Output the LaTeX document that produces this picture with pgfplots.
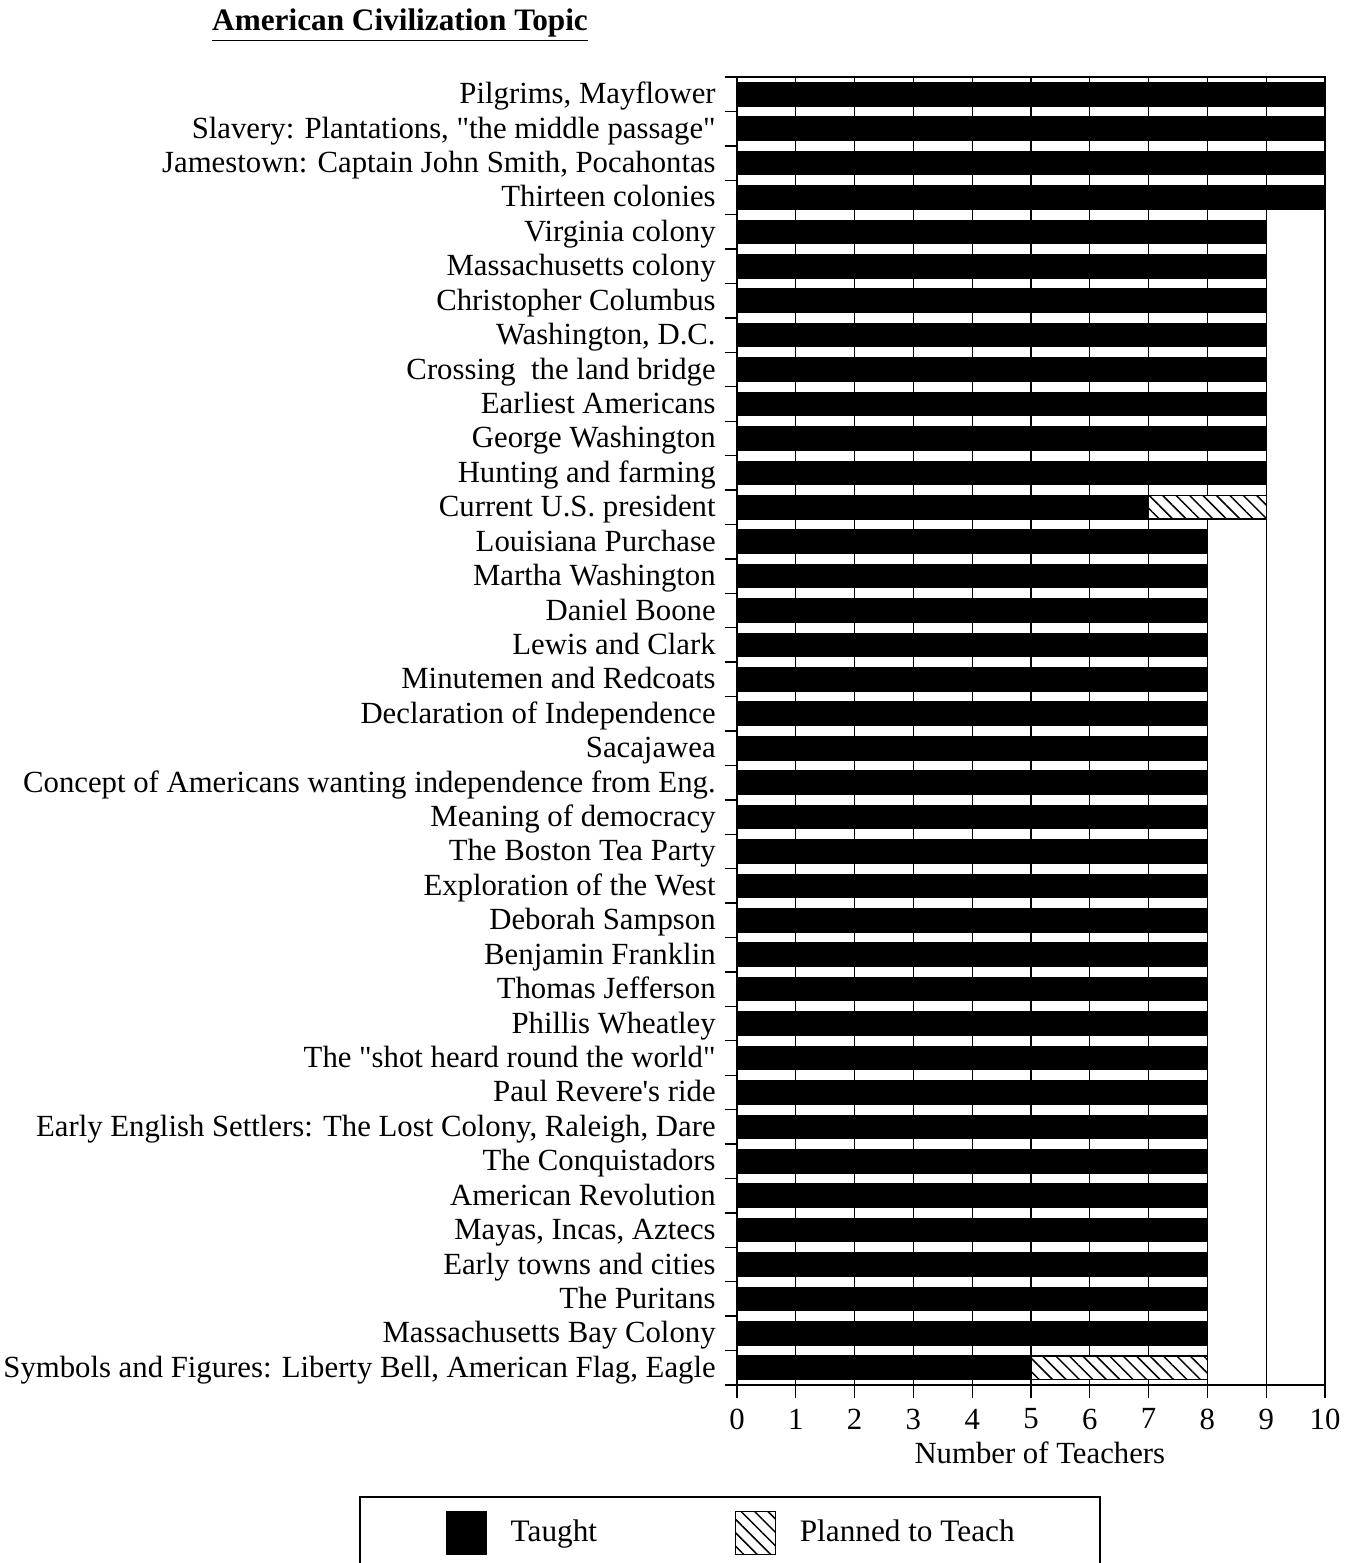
\documentclass[border=0pt]{standalone}
\usepackage{fontspec}
\setmainfont{Liberation Serif}[Ligatures=TeXOff]
\usepackage{pgfplots}
\usepackage{pgfplotstable}
\pgfplotsset{compat=1.18}
\usetikzlibrary{patterns.meta}

% row 1 = top of the chart
\pgfplotstableread{
row taught planned
1 10 0
2 10 0
3 10 0
4 10 0
5 9 0
6 9 0
7 9 0
8 9 0
9 9 0
10 9 0
11 9 0
12 9 0
13 7 2
14 8 0
15 8 0
16 8 0
17 8 0
18 8 0
19 8 0
20 8 0
21 8 0
22 8 0
23 8 0
24 8 0
25 8 0
26 8 0
27 8 0
28 8 0
29 8 0
30 8 0
31 8 0
32 8 0
33 8 0
34 8 0
35 8 0
36 8 0
37 8 0
38 5 3
}\topics

\begin{document}
\begin{tikzpicture}[x=1pt,y=1pt,font=\fontsize{12.3}{14}\selectfont]
\useasboundingbox (0,0) rectangle (543.2,625.2);
\node[font=\bfseries\fontsize{12.5}{14}\selectfont] at (160,615)
  {\underline{American Civilization Topic}};
\begin{axis}[
  at={(294.8pt,71.2pt)}, anchor=south west,
  scale only axis, width=235.2pt, height=523.2pt,
  xbar stacked, bar width=0.68,
  xmin=0, xmax=10, ymin=0.5, ymax=38.5, y dir=reverse,
  xtick={0,...,10}, xmajorgrids,
  grid style={black, line width=0.55pt},
  axis line style={line width=0.6pt},
  ytick={0.5,1.5,...,38.5}, y tick label as interval,
  yticklabel style={anchor=base east, yshift=-3.8pt},
  yticklabels={
    {Pilgrims, Mayflower},
    {Slavery: Plantations, "the middle passage"},
    {Jamestown: Captain John Smith, Pocahontas},
    {Thirteen colonies},
    {Virginia colony},
    {Massachusetts colony},
    {Christopher Columbus},
    {Washington, D.C.},
    {Crossing~ the land bridge},
    {Earliest Americans},
    {George Washington},
    {Hunting and farming},
    {Current U.S. president},
    {Louisiana Purchase},
    {Martha Washington},
    {Daniel Boone},
    {Lewis and Clark},
    {Minutemen and Redcoats},
    {Declaration of Independence},
    {Sacajawea},
    {Concept of Americans wanting independence from Eng.},
    {Meaning of democracy},
    {The Boston Tea Party},
    {Exploration of the West},
    {Deborah Sampson},
    {Benjamin Franklin},
    {Thomas Jefferson},
    {Phillis Wheatley},
    {The "shot heard round the world"},
    {Paul Revere's ride},
    {Early English Settlers: The Lost Colony, Raleigh, Dare},
    {The Conquistadors},
    {American Revolution},
    {Mayas, Incas, Aztecs},
    {Early towns and cities},
    {The Puritans},
    {Massachusetts Bay Colony},
    {Symbols and Figures: Liberty Bell, American Flag, Eagle}},
  tick align=outside, xtick pos=bottom, ytick pos=left,
  major tick length=5pt,
  tick style={black, line width=0.55pt},
  /pgf/number format/assume math mode=true,
  xticklabel style={yshift=-1pt},
  xlabel={Number of Teachers},
  xlabel style={at={(axis description cs:0.515,-0.052)}, anchor=center},
  legend style={at={(axis description cs:-0.4966,-0.1131)}, anchor=west,
    draw=none, fill=none, legend columns=2, inner sep=0pt,
    font=\fontsize{12.5}{14}\selectfont,
    /tikz/every odd column/.append style={column sep=7.6pt},
    /tikz/every even column/.append style={column sep=53pt}},
  legend image code/.code={\draw[#1] (0pt,-8.6pt) rectangle (16pt,8.6pt);},
]
\addplot[fill=black, draw=black, line width=0.5pt] table[x=taught, y=row] {\topics};
\addlegendentry{Taught}
\addplot[fill=white, draw=black, line width=0.5pt,
  postaction={pattern={Lines[angle=-45,distance=3.8pt,line width=0.6pt]}}]
  table[x=planned, y=row] {\topics};
\addlegendentry{Planned to Teach}
\end{axis}
\draw[line width=0.6pt] (144,26.4) rectangle (440,-10);
\end{tikzpicture}
\end{document}
